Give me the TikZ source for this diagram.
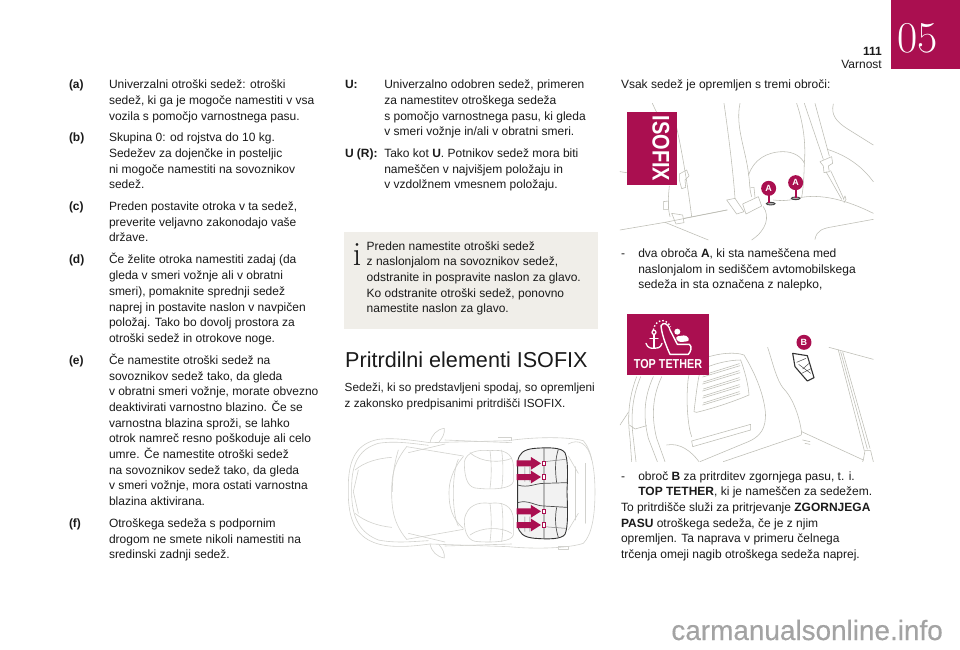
\documentclass[tikz,border=0pt]{standalone}
\usepackage{fontspec}
\setsansfont{Liberation Sans}
\newfontfamily\wmfont[FakeBold=0.35]{Liberation Sans}
\definecolor{mag}{HTML}{AA0F50}
\definecolor{infobg}{HTML}{F0EEE9}
\definecolor{art}{HTML}{BDBDB5}
\definecolor{carl}{HTML}{D2D2CE}
\definecolor{wm}{HTML}{A3A3A3}
\definecolor{ink}{HTML}{1A1A1A}
\newcounter{tn}
\newcommand{\Tx}[3]{\stepcounter{tn}\node[txt,name=t\arabic{tn}] at (#1,#2) {#3};}
\newcommand{\Lb}[3]{\stepcounter{tn}\node[txt,font=\sffamily\bfseries\fontsize{12}{14}\selectfont,name=t\arabic{tn}] at (#1,#2) {#3};}
\newcommand{\B}[1]{\textbf{#1}}
\tikzset{
  txt/.style={anchor=base west,inner sep=0pt,outer sep=0pt,text=ink,font=\sffamily\fontsize{12}{14}\selectfont},
  artl/.style={draw=art,line width=0.55pt,line join=round,line cap=round},
  carline/.style={draw=carl,line width=0.6pt,line join=round,line cap=round},
  zoomA/.style={shift={(620,100)},x=0.3333pt,y=-0.3333pt},
  zoomB/.style={shift={(620,305)},x=0.3333pt,y=-0.3333pt},
  zoomC/.style={shift={(335,420)},x=0.3333pt,y=-0.3333pt},
  badge/.style={circle,fill=mag,text=white,inner sep=0pt,minimum size=15pt,font=\sffamily\bfseries\fontsize{9}{10}\selectfont},
}
\begin{document}
\begin{tikzpicture}[x=1pt,y=-1pt]
\useasboundingbox (0,0) rectangle (960,649);
\fill[white] (0,0) rectangle (960,649);
% header tab
\fill[mag] (891,0) rectangle (960,69);
\node[anchor=base,inner sep=0pt,text=white,font=\rmfamily\fontsize{44}{44}\selectfont] (chap) at (917.5,52) {05};
\node[anchor=base east,inner sep=0pt,text=ink,font=\sffamily\bfseries\fontsize{12}{14}\selectfont] (pageno) at (882,55) {111};
\node[anchor=base east,inner sep=0pt,text=ink,font=\sffamily\fontsize{12}{14}\selectfont] (section) at (882,68.3) {Varnost};
% left column
\Lb{69}{88.7}{(a)}
\Tx{109}{88.7}{Univerzalni otroški sedež: otroški}
\Tx{109}{104.3}{sedež, ki ga je mogoče namestiti v vsa}
\Tx{109}{120}{vozila s pomočjo varnostnega pasu.}
\Lb{69}{141.6}{(b)}
\Tx{109}{141.6}{Skupina 0: od rojstva do 10 kg.}
\Tx{109}{157.3}{Sedežev za dojenčke in posteljic}
\Tx{109}{173}{ni mogoče namestiti na sovoznikov}
\Tx{109}{188.6}{sedež.}
\Lb{69}{210.3}{(c)}
\Tx{109}{210.3}{Preden postavite otroka v ta sedež,}
\Tx{109}{226}{preverite veljavno zakonodajo vaše}
\Tx{109}{241.6}{države.}
\Lb{69}{263.3}{(d)}
\Tx{109}{263.3}{Če želite otroka namestiti zadaj (da}
\Tx{109}{279.3}{gleda v smeri vožnje ali v obratni}
\Tx{109}{295}{smeri), pomaknite sprednji sedež}
\Tx{109}{311}{naprej in postavite naslon v navpičen}
\Tx{109}{326.7}{položaj. Tako bo dovolj prostora za}
\Tx{109}{342.3}{otroški sedež in otrokove noge.}
\Lb{69}{364.3}{(e)}
\Tx{109}{364.3}{Če namestite otroški sedež na}
\Tx{109}{380}{sovoznikov sedež tako, da gleda}
\Tx{109}{395.7}{v obratni smeri vožnje, morate obvezno}
\Tx{109}{411.3}{deaktivirati varnostno blazino. Če se}
\Tx{109}{427}{varnostna blazina sproži, se lahko}
\Tx{109}{442.7}{otrok namreč resno poškoduje ali celo}
\Tx{109}{458.3}{umre. Če namestite otroški sedež}
\Tx{109}{474}{na sovoznikov sedež tako, da gleda}
\Tx{109}{489.7}{v smeri vožnje, mora ostati varnostna}
\Tx{109}{505.3}{blazina aktivirana.}
\Lb{69}{527.3}{(f)}
\Tx{109}{527.3}{Otroškega sedeža s podpornim}
\Tx{109}{543}{drogom ne smete nikoli namestiti na}
\Tx{109}{558.7}{sredinski zadnji sedež.}
% middle column
\Lb{345}{88.7}{U:}
\Tx{384.3}{88.7}{Univerzalno odobren sedež, primeren}
\Tx{384.3}{104.3}{za namestitev otroškega sedeža}
\Tx{384.3}{120}{s pomočjo varnostnega pasu, ki gleda}
\Tx{384.3}{135.6}{v smeri vožnje in/ali v obratni smeri.}
\Lb{345}{157.3}{U (R):}
\Tx{384.3}{157.3}{Tako kot \B{U}. Potnikov sedež mora biti}
\Tx{384.3}{173}{nameščen v najvišjem položaju in}
\Tx{384.3}{188.6}{v vzdolžnem vmesnem položaju.}
% info box
\fill[infobg] (344,232) rectangle (598,329);
\node[anchor=base,inner sep=0pt,text=ink,font=\rmfamily\fontsize{34}{34}\selectfont] (infoi) at (357,265) {i};
\Tx{366.7}{250}{Preden namestite otroški sedež}
\Tx{366.7}{265.7}{z naslonjalom na sovoznikov sedež,}
\Tx{366.7}{281.3}{odstranite in pospravite naslon za glavo.}
\Tx{366.7}{297}{Ko odstranite otroški sedež, ponovno}
\Tx{366.7}{312.6}{namestite naslon za glavo.}
% heading
\node[anchor=base west,inner sep=0pt,text=ink,font=\sffamily\fontsize{21.6}{24}\selectfont] (head) at (345,367.7) {Pritrdilni elementi ISOFIX};
\Tx{344.7}{391.7}{\fontsize{11.75}{14}\selectfont Sedeži, ki so predstavljeni spodaj, so opremljeni}
\Tx{344.7}{407.7}{\fontsize{11.75}{14}\selectfont z zakonsko predpisanimi pritrdišči ISOFIX.}
% car
\begin{scope}[zoomC]
\draw[carline] (40,210) .. controls (38,110) and (70,70) .. (130,58) .. controls (180,52) and (240,62) .. (285,68) -- (520,62) .. controls (600,50) and (700,50) .. (745,62) .. controls (770,90) and (780,150) .. (780,215) .. controls (780,290) and (770,345) .. (745,370) .. controls (700,385) and (600,388) .. (520,380) -- (285,372) .. controls (240,378) and (180,385) .. (130,372) .. controls (70,355) and (38,310) .. (40,210);
\draw[carline] (50,210) .. controls (48,120) and (80,85) .. (130,70) .. controls (180,62) and (230,70) .. (280,76);
\draw[carline] (50,210) .. controls (48,300) and (80,340) .. (130,360) .. controls (180,370) and (230,365) .. (280,362);
\draw[carline] (215,80) .. controls (175,130) and (170,170) .. (170,215) .. controls (170,265) and (175,310) .. (215,358);
\draw[carline] (190,90) .. controls (175,140) and (172,180) .. (172,215);
\draw[carline] (215,80) -- (385,108) (215,358) -- (385,328);
\draw[carline] (385,110) .. controls (350,150) and (342,190) .. (342,218) .. controls (342,260) and (350,295) .. (385,325);
\draw[carline] (370,118) .. controls (350,160) and (350,280) .. (370,318);
\draw[carline] (60,150) .. controls (90,125) and (130,115) .. (170,112);
\draw[carline] (60,280) .. controls (90,305) and (130,318) .. (170,322);
\draw[carline] (70,150) -- (55,215) -- (70,280);
\draw[carline] (285,68) .. controls (290,45) and (305,28) .. (328,25) .. controls (330,40) and (322,55) .. (312,66);
\draw[carline] (285,372) .. controls (290,395) and (305,410) .. (328,414) .. controls (330,400) and (322,385) .. (312,374);
\draw[carline] (330,60) -- (530,68) (220,98) -- (330,72) (220,340) -- (330,366) (330,378) -- (530,372);
\draw[carline] (490,52) -- (530,52) -- (530,62) (670,378) -- (700,378) -- (700,388) -- (670,388) -- cycle;
\draw[carline] (700,72) .. controls (730,55) and (760,70) .. (770,120) (700,108) -- (730,160) (700,330) -- (730,280);
\draw[carline] (720,140) -- (720,300) (752,130) -- (752,310);
% front seats
\draw[carline] (388,125) .. controls (395,95) and (430,88) .. (465,92) .. controls (500,88) and (535,95) .. (535,140) -- (535,185) .. controls (530,205) and (480,210) .. (430,205) .. controls (400,205) and (388,180) .. (388,125);
\draw[carline] (388,300) .. controls (395,255) and (430,245) .. (465,250) .. controls (500,245) and (535,255) .. (535,300) -- (535,345) .. controls (530,365) and (480,368) .. (430,365) .. controls (400,365) and (388,340) .. (388,300);
\draw[carline] (465,92) .. controls (470,130) and (470,170) .. (465,205) (500,90) .. controls (505,130) and (505,170) .. (500,205) (405,98) .. controls (440,130) and (500,128) .. (530,115);
\draw[carline] (465,250) .. controls (470,290) and (470,330) .. (465,365) (500,250) .. controls (505,290) and (505,330) .. (500,365) (405,345) .. controls (440,320) and (500,320) .. (530,340);
% rear seat
\draw[fill=gray!10,draw=black!80,line width=0.9pt,line join=round] (548,125) .. controls (552,100) and (565,88) .. (600,85) .. controls (640,82) and (680,82) .. (690,98) .. controls (700,120) and (698,170) .. (696,215) .. controls (698,270) and (700,320) .. (690,343) .. controls (680,358) and (640,358) .. (600,355) .. controls (565,352) and (552,340) .. (548,315) -- cycle;
\draw[draw=black!70,line width=0.7pt] (627,85) -- (627,355) (670,88) .. controls (660,120) and (660,150) .. (665,188) (670,352) .. controls (660,320) and (660,290) .. (665,262);
\draw[draw=black!70,line width=0.7pt] (548,195) .. controls (580,205) and (600,190) .. (627,190) -- (696,188) (548,248) .. controls (580,238) and (600,258) .. (627,258) -- (696,262);
\draw[draw=black!50,line width=0.5pt] (627,125) -- (692,118) (627,320) -- (692,325) (570,140) -- (570,185) (585,140) -- (585,185) (570,290) -- (570,335) (585,290) -- (585,335);
% arrows
\foreach \yy in {130,171,274,315}{
 \fill[mag] (545,\yy-9) -- (588,\yy-9) -- (588,\yy-19) -- (618,\yy) -- (588,\yy+19) -- (588,\yy+9) -- (545,\yy+9) -- cycle;
 \draw[mag,line width=0.7pt,fill=white] (621,\yy-7) rectangle (631,\yy+7);
}
\end{scope}
% right column
\Tx{621}{88.7}{Vsak sedež je opremljen s tremi obroči:}
% ISOFIX seat art
\begin{scope}[zoomA]
\draw[artl] (97,10) .. controls (120,60) and (135,80) .. (145,110);
\draw[artl] (160,40) .. controls (185,140) and (205,270) .. (215,350);
\draw[artl] (0,215) -- (20,218);
\draw[artl] (178,222) -- (200,210) -- (207,228) -- (195,240) -- (197,262) -- (185,266) -- (178,240) -- cycle;
\draw[artl] (148,258) .. controls (145,290) and (142,320) .. (150,350);
\draw[artl] (130,305) -- (145,303) -- (145,328) -- (130,328) -- cycle;
\draw[artl] (155,340) -- (188,345) -- (192,368) -- (168,372) -- cycle;
\draw[artl] (0,390) -- (135,367) -- (322,330);
\draw[artl] (135,367) -- (265,420);
\draw[artl] (312,10) .. controls (325,100) and (340,220) .. (345,295);
\draw[artl] (320,300) -- (345,295) -- (372,335) -- (350,342) -- cycle;
\draw[artl] (368,312) -- (415,290) -- (425,318) -- (378,342) -- cycle;
\draw[artl] (392,262) -- (402,262) -- (405,292);
\draw[artl] (360,10) .. controls (345,80) and (378,150) .. (386,225) .. controls (390,250) and (388,270) .. (395,290);
\draw[artl] (386,225) .. controls (400,180) and (440,155) .. (490,155) .. controls (520,155) and (545,170) .. (553,190);
\draw[artl] (530,10) .. controls (550,70) and (558,130) .. (553,190) .. controls (552,230) and (550,265) .. (545,292);
\draw[artl] (553,10) -- (610,178) (618,215) -- (665,298);
\draw[artl] (585,10) -- (628,168) (632,212) -- (672,298);
\draw[artl] (600,185) -- (635,170) -- (638,190) -- (625,198) -- (628,215) -- (612,218) -- (610,198) -- cycle;
\draw[artl] (640,12) .. controls (632,45) and (650,65) .. (680,85) -- (760,135);
\draw[artl] (622,148) .. controls (690,170) and (730,205) .. (760,245);
\draw[artl] (670,298) -- (675,288) -- (678,298) -- (672,308);
\draw[artl] (430,320) .. controls (450,350) and (440,390) .. (395,420);
\draw[artl] (460,300) .. controls (500,305) and (520,298) .. (545,292) .. controls (620,280) and (700,310) .. (760,340);
\draw[artl] (585,418) .. controls (590,390) and (610,385) .. (640,380) -- (760,358);
\draw[artl] (192,355) -- (320,330);
% anchors
\draw[black!75,line width=0.9pt,fill=black!30] (452,311) ellipse (13 and 4);
\draw[black!75,line width=0.9pt,fill=black!30] (527,295) ellipse (13 and 4);
\draw[mag,line width=2pt] (447,280) -- (447,309);
\draw[mag,line width=2pt] (527,262) -- (527,293);
\node[badge] (ancA) at (446,265) {A};
\node[badge] (ancAA) at (527,248) {A};
\fill[mag] (20,35) rectangle (170,256);
\node[rotate=-90,inner sep=0pt,text=white,font=\sffamily\bfseries\fontsize{20}{20}\selectfont] (isofix) at (123,145) {\scalebox{1}[1.2]{ISOFIX}};
\end{scope}
\Tx{621}{257.5}{-}
\Tx{638.3}{257.5}{dva obroča \B{A}, ki sta nameščena med}
\Tx{638.3}{273}{naslonjalom in sediščem avtomobilskega}
\Tx{638.3}{288.7}{sedeža in sta označena z nalepko,}
% top tether art
\begin{scope}[zoomB]
\draw[artl] (50,215) .. controls (25,280) and (22,340) .. (30,400) -- (35,470);
\draw[artl] (62,215) .. controls (35,280) and (32,340) .. (40,400) -- (48,470);
\draw[artl] (100,215) .. controls (70,280) and (70,340) .. (85,400) -- (112,470);
\draw[artl] (125,215) .. controls (95,280) and (95,340) .. (110,400) -- (135,470);
\draw[artl] (0,360) -- (25,322);
\draw[artl] (28,360) -- (45,372) -- (80,362);
\draw[artl] (140,420) .. controls (180,412) and (215,440) .. (237,470);
\draw[artl] (267,150) .. controls (220,175) and (205,190) .. (203,240) .. controls (198,300) and (205,370) .. (215,395);
\draw[artl] (267,155) .. controls (300,145) and (345,140) .. (372,150) .. controls (400,195) and (430,260) .. (436,320) .. controls (440,370) and (420,395) .. (385,410) -- (240,470);
\draw[artl] (222,320) .. controls (228,270) and (235,210) .. (242,195) (242,195) .. controls (280,175) and (330,165) .. (362,165) .. controls (375,200) and (385,240) .. (387,270) .. controls (340,290) and (280,310) .. (230,322) -- (222,320);
\foreach \yy in {0,21,42,63,84}{
 \draw[artl] (250,210+\yy) -- (358,176+\yy);
 \draw[artl] (248,216+\yy) -- (360,182+\yy);
}
\draw[artl] (215,408) -- (392,358) -- (392,375) -- (218,425) -- cycle;
\draw[artl] (443,127) .. controls (460,180) and (470,225) .. (490,250) .. controls (520,280) and (540,340) .. (545,385) .. controls (548,392) and (530,395) .. (510,402) -- (310,470);
\draw[artl] (545,380) -- (730,465) -- (735,437) -- (752,437) -- (760,470);
\draw[artl] (730,465) -- (728,470);
\draw[artl] (627,127) -- (760,163);
\draw[artl] (655,135) -- (733,437);
\draw[artl] (668,140) -- (750,430);
\draw[artl] (662,140) -- (742,432);
\draw[black!80,line width=1.1pt,line join=round,fill=white] (518,145) -- (562,152) -- (582,218) -- (562,228) -- (525,185) -- cycle;
\draw[black!70,line width=0.5pt] (530,172) -- (558,160) (536,178) -- (572,205) (548,192) -- (566,176) (545,205) -- (575,190);
\draw[artl] (548,405) -- (570,410) (555,415) -- (570,418);
\node[badge] (ancB) at (552,112) {B};
\fill[mag] (22,27) rectangle (266,210);
% icon
\draw[white,line width=1.4pt,dash pattern=on 1.5pt off 2pt] (100,75) .. controls (105,45) and (135,35) .. (152,65);
\draw[white,line width=1.3pt,line cap=round] (102,88) -- (102,128);
\draw[white,line width=1.3pt,line cap=round] (90,100) -- (114,100);
\draw[white,line width=1.2pt] (102,82) circle (6);
\draw[white,line width=1.3pt,line cap=round] (78,115) .. controls (82,130) and (95,130) .. (102,130) .. controls (110,130) and (122,130) .. (126,115);
\draw[white,line width=1.4pt,line join=round] (123,62) .. controls (130,50) and (145,55) .. (150,75) -- (172,118) -- (208,118) .. controls (218,125) and (212,140) .. (205,148) -- (150,148) .. controls (135,115) and (125,85) .. (123,62) -- cycle;
\fill[white] (172,80) circle (9);
\fill[white,rounded corners=3pt] (165,95) -- (200,90) -- (210,108) -- (175,112) -- cycle;
\node[inner sep=0pt,text=white,font=\sffamily\bfseries\fontsize{13}{13}\selectfont,xscale=0.83] (tether) at (144,177) {TOP TETHER};
\end{scope}
\Tx{621}{480}{-}
\Tx{638.3}{480}{obroč \B{B} za pritrditev zgornjega pasu, t. i.}
\Tx{638.3}{495.7}{\B{TOP TETHER}, ki je nameščen za sedežem.}
\Tx{621}{511.3}{To pritrdišče služi za pritrjevanje \B{ZGORNJEGA}}
\Tx{621}{527}{\B{PASU} otroškega sedeža, če je z njim}
\Tx{621}{542.7}{opremljen. Ta naprava v primeru čelnega}
\Tx{621}{558.3}{trčenja omeji nagib otroškega sedeža naprej.}
% watermark
\node[anchor=base east,inner sep=0pt,text=wm,font=\wmfont\fontsize{27.9}{28}\selectfont] (wmark) at (943,640) {carmanualsonline.info};
\end{tikzpicture}
\end{document}
